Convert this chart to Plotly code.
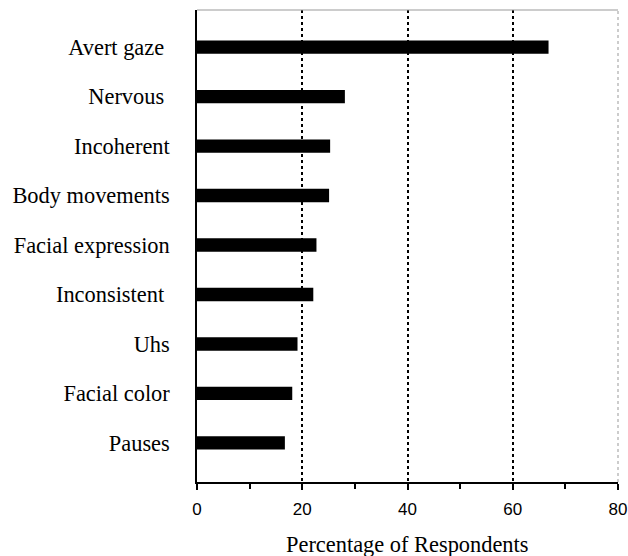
import plotly.graph_objects as go

categories = ["Pauses", "Facial color", "Uhs", "Inconsistent ", "Facial expression",
              "Body movements", "Incoherent", "Nervous ", "Avert gaze "]
values = [16.7, 18.1, 19.1, 22.1, 22.7, 25.1, 25.3, 28.1, 66.8]
x_ticks = [0, 20, 40, 60, 80]
x_title = "Percentage of Respondents"

fig = go.Figure()
fig.add_trace(go.Bar(
    y=list(range(len(categories))), x=values, orientation="h",
    marker=dict(color="#000000", line=dict(width=0)),
    width=0.27,
))

fig.update_layout(
    width=628, height=556,
    margin=dict(l=197, r=10, t=10, b=74),
    plot_bgcolor="white", paper_bgcolor="white",
    showlegend=False,
    xaxis=dict(
        range=[0, 80], tickvals=x_ticks, ticktext=[str(v) for v in x_ticks],
        showline=True, linecolor="black", linewidth=1.5,
        ticks="outside", ticklen=6, tickwidth=1.5, tickcolor="black",
        minor=dict(dtick=10, ticks="outside", ticklen=5, tickwidth=1.5, tickcolor="black", showgrid=False),
        showgrid=True, gridcolor="black", gridwidth=2, griddash="dot",
        zeroline=False, automargin=False,
        tickfont=dict(family="Liberation Sans, Arial", size=17, color="black"),
        ticklabelstandoff=5,
    ),
    yaxis=dict(
        range=[-0.79, 8.75],
        tickvals=list(range(len(categories))), ticktext=categories,
        showline=True, linecolor="black", linewidth=1.5,
        ticks="", showgrid=False, zeroline=False, automargin=False,
        tickfont=dict(family="Liberation Serif, Times New Roman", size=22.4, color="black"),
        ticklabelstandoff=21,
    ),
    annotations=[
        dict(text=x_title, xref="paper", yref="paper", x=0.5, y=-0.1315,
             xanchor="center", yanchor="middle", showarrow=False,
             font=dict(family="Liberation Serif, Times New Roman", size=22.4, color="black")),
    ],
    shapes=[
        dict(type="line", xref="paper", yref="paper", x0=0, x1=1, y0=1, y1=1,
             line=dict(color="#999999", width=1)),
        dict(type="line", xref="paper", yref="paper", x0=1, x1=1, y0=0, y1=1,
             line=dict(color="#999999", width=1, dash="dot")),
    ],
)

fig.write_html("out.html", config={"displayModeBar": False},
               post_script="document.body.style.margin='0';document.body.style.overflow='hidden';")
